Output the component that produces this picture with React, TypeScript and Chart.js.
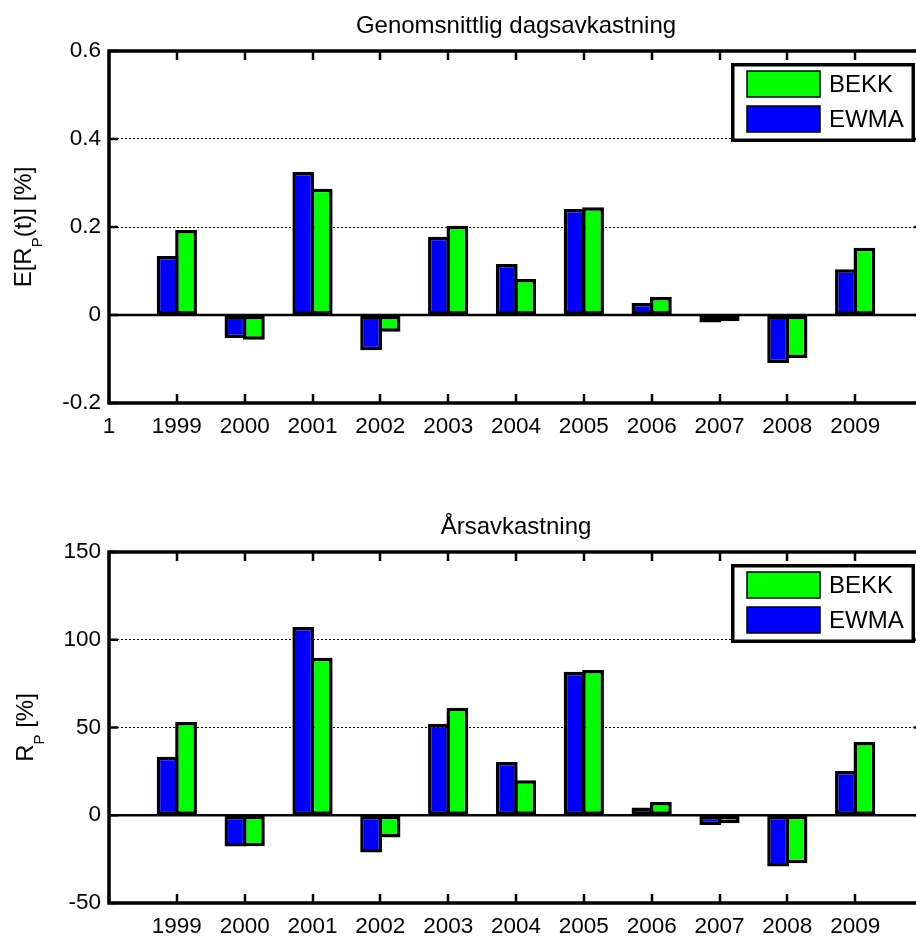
import React, { useEffect, useRef } from 'react';
import { Chart, registerables } from 'chart.js';

Chart.register(...registerables);

// ---------- data ----------
const years = ['1999', '2000', '2001', '2002', '2003', '2004', '2005', '2006', '2007', '2008', '2009'];
const seriesNames = ['EWMA', 'BEKK'];
const seriesColors = ['#0000ff', '#00ff00'];

const ewmaDaily = [0.134, -0.052, 0.325, -0.080, 0.178, 0.116, 0.241, 0.027, -0.017, -0.109, 0.104];
const bekkDaily = [0.193, -0.056, 0.287, -0.038, 0.203, 0.082, 0.245, 0.041, -0.014, -0.098, 0.153];

const ewmaAnnual = [33.4, -17.8, 107.3, -21.2, 52.2, 30.3, 81.7, 4.4, -5.5, -29.2, 25.2];
const bekkAnnual = [53.1, -17.6, 89.7, -12.7, 61.3, 19.9, 82.7, 7.6, -4.6, -27.3, 41.7];

const dailyTicks = [-0.2, 0, 0.2, 0.4, 0.6];
const dailyTickLabels = ['-0.2', '0', '0.2', '0.4', '0.6'];
const annualTicks = [-50, 0, 50, 100, 150];
const annualTickLabels = ['-50', '0', '50', '100', '150'];

const topXLabels = ['1', ...years, ''];
const bottomXLabels = ['', ...years, ''];

const topTitle = 'Genomsnittlig dagsavkastning';
const bottomTitle = 'Årsavkastning';

const FONT = "'Liberation Sans', Arial, Helvetica, sans-serif";
const TICK_SIZE = 22.5;

// ---------- MATLAB-like decorations ----------
const matlabPlugin = {
  id: 'matlab',
  beforeDatasetsDraw(chart: any) {
    const { ctx, chartArea: ca, scales } = chart;
    const y0 = scales.y.getPixelForValue(0);
    ctx.save();
    ctx.strokeStyle = '#000';
    ctx.lineWidth = 2.5;
    ctx.beginPath();
    ctx.moveTo(ca.left, y0);
    ctx.lineTo(ca.right, y0);
    ctx.stroke();
    ctx.restore();
  },
  afterDatasetsDraw(chart: any, _args: any, opts: any) {
    const { ctx, chartArea: ca, scales } = chart;
    ctx.save();
    // frame
    ctx.strokeStyle = '#000';
    ctx.lineWidth = 3.5;
    ctx.strokeRect(ca.left, ca.top, ca.right - ca.left, ca.bottom - ca.top);
    // inward ticks
    ctx.lineWidth = 2.5;
    const tl = 9;
    const n = chart.data.labels.length;
    ctx.beginPath();
    for (let i = 0; i < n; i++) {
      const px = Math.round(scales.x.getPixelForValue(i));
      ctx.moveTo(px, ca.bottom);
      ctx.lineTo(px, ca.bottom - tl);
      ctx.moveTo(px, ca.top);
      ctx.lineTo(px, ca.top + tl);
    }
    for (const t of scales.y.ticks) {
      const py = scales.y.getPixelForValue(t.value);
      ctx.moveTo(ca.left, py);
      ctx.lineTo(ca.left + tl, py);
      ctx.moveTo(ca.right, py);
      ctx.lineTo(ca.right - tl, py);
    }
    ctx.stroke();

    // title
    ctx.fillStyle = '#000';
    ctx.font = `24px ${FONT}`;
    ctx.textAlign = 'center';
    ctx.textBaseline = 'alphabetic';
    ctx.fillText(opts.title, (ca.left + ca.right) / 2, ca.top - 18);

    // y label with subscript
    ctx.save();
    ctx.translate(opts.ylabelX, (ca.top + ca.bottom) / 2);
    ctx.rotate(-Math.PI / 2);
    ctx.textAlign = 'left';
    const mainFont = `24px ${FONT}`;
    const subFont = `15px ${FONT}`;
    ctx.font = mainFont;
    const w1 = ctx.measureText(opts.ylabelA).width;
    const w3 = ctx.measureText(opts.ylabelC).width;
    ctx.font = subFont;
    const w2 = ctx.measureText(opts.ylabelSub).width;
    let x = -(w1 + w2 + w3) / 2;
    ctx.font = mainFont;
    ctx.fillText(opts.ylabelA, x, 0);
    x += w1;
    ctx.font = subFont;
    ctx.fillText(opts.ylabelSub, x, 11);
    x += w2;
    ctx.font = mainFont;
    ctx.fillText(opts.ylabelC, x, 0);
    ctx.restore();

    // legend (inside, upper right, reversed order)
    const lgRight = ca.right - 8;
    const lgLeft = lgRight - 184;
    const lgTop = ca.top + 12;
    const lgH = 79;
    ctx.fillStyle = '#fff';
    ctx.fillRect(lgLeft, lgTop, lgRight - lgLeft, lgH);
    ctx.lineWidth = 3.5;
    ctx.strokeStyle = '#000';
    ctx.strokeRect(lgLeft + 1.75, lgTop + 1.75, lgRight - lgLeft - 3.5, lgH - 3.5);
    const items = chart.data.datasets.slice().reverse();
    items.forEach((ds: any, i: number) => {
      const sx = lgLeft + 16;
      const sy = lgTop + 8 + i * 35;
      ctx.fillStyle = ds.backgroundColor;
      ctx.fillRect(sx, sy, 73, 26);
      ctx.lineWidth = 1.5;
      ctx.strokeStyle = '#000';
      ctx.strokeRect(sx, sy, 73, 26);
      ctx.fillStyle = '#000';
      ctx.font = `24px ${FONT}`;
      ctx.textAlign = 'left';
      ctx.textBaseline = 'middle';
      ctx.fillText(ds.label, sx + 82, sy + 14);
    });
    ctx.restore();
  },
};

function makeConfig(
  xLabels: string[],
  ewma: number[],
  bekk: number[],
  ticks: number[],
  tickLabels: string[],
  o: { padTop: number; xHeight: number; title: string; ylabelA: string; ylabelSub: string; ylabelC: string; ylabelX: number }
): any {
  const series = [ewma, bekk];
  return {
    type: 'bar',
    data: {
      labels: xLabels,
      datasets: series.map((vals, i) => ({
        label: seriesNames[i],
        data: [null, ...vals, null],
        backgroundColor: seriesColors[i],
        borderColor: '#000',
        borderWidth: 3.5,
        borderSkipped: false,
        categoryPercentage: 0.544,
        barPercentage: 1.18,
      })),
    },
    options: {
      responsive: false,
      animation: false,
      devicePixelRatio: 1,
      layout: { padding: { top: o.padTop, right: 17, left: 0, bottom: 0 } },
      plugins: {
        legend: { display: false },
        title: { display: false },
        tooltip: { enabled: false },
        matlab: {
          title: o.title,
          ylabelA: o.ylabelA,
          ylabelSub: o.ylabelSub,
          ylabelC: o.ylabelC,
          ylabelX: o.ylabelX,
        },
      },
      scales: {
        x: {
          type: 'category',
          offset: false,
          grid: { display: false, drawTicks: false },
          border: { display: false },
          ticks: {
            color: '#000',
            font: { family: FONT, size: TICK_SIZE },
            padding: 10,
            maxRotation: 0,
            minRotation: 0,
            autoSkip: false,
          },
          afterFit: (s: any) => {
            s.height = o.xHeight;
          },
        },
        y: {
          min: ticks[0],
          max: ticks[ticks.length - 1],
          grid: {
            drawTicks: false,
            lineWidth: 1,
            color: (c: any) =>
              c.tick && (c.tick.value === ticks[0] || c.tick.value === ticks[ticks.length - 1])
                ? 'rgba(0,0,0,0)'
                : '#000',
          },
          border: { display: false, dash: [2, 2] },
          afterBuildTicks: (s: any) => {
            s.ticks = ticks.map((v) => ({ value: v }));
          },
          ticks: {
            color: '#000',
            font: { family: FONT, size: TICK_SIZE },
            padding: 8,
            callback: (_v: any, idx: number) => tickLabels[idx],
          },
          afterFit: (s: any) => {
            s.width = 109;
          },
        },
      },
    },
    plugins: [matlabPlugin],
  };
}

export default function App() {
  const topRef = useRef<HTMLCanvasElement | null>(null);
  const botRef = useRef<HTMLCanvasElement | null>(null);

  useEffect(() => {
    const c1 = new Chart(
      topRef.current as HTMLCanvasElement,
      makeConfig(topXLabels, ewmaDaily, bekkDaily, dailyTicks, dailyTickLabels, {
        padTop: 51,
        xHeight: 57,
        title: topTitle,
        ylabelA: 'E[R',
        ylabelSub: 'P',
        ylabelC: '(t)] [%]',
        ylabelX: 30.5,
      })
    );
    const c2 = new Chart(
      botRef.current as HTMLCanvasElement,
      makeConfig(bottomXLabels, ewmaAnnual, bekkAnnual, annualTicks, annualTickLabels, {
        padTop: 92,
        xHeight: 34,
        title: bottomTitle,
        ylabelA: 'R',
        ylabelSub: 'P',
        ylabelC: ' [%]',
        ylabelX: 33,
      })
    );
    return () => {
      c1.destroy();
      c2.destroy();
    };
  }, []);

  return (
    <div
      style={{
        position: 'absolute',
        left: 0,
        top: 0,
        width: 916,
        height: 937,
        overflow: 'hidden',
        background: '#fff',
      }}
    >
      <canvas
        ref={topRef}
        width={940}
        height={460}
        style={{ position: 'absolute', left: 0, top: 0, width: 940, height: 460 }}
      />
      <canvas
        ref={botRef}
        width={940}
        height={477}
        style={{ position: 'absolute', left: 0, top: 460, width: 940, height: 477 }}
      />
    </div>
  );
}
